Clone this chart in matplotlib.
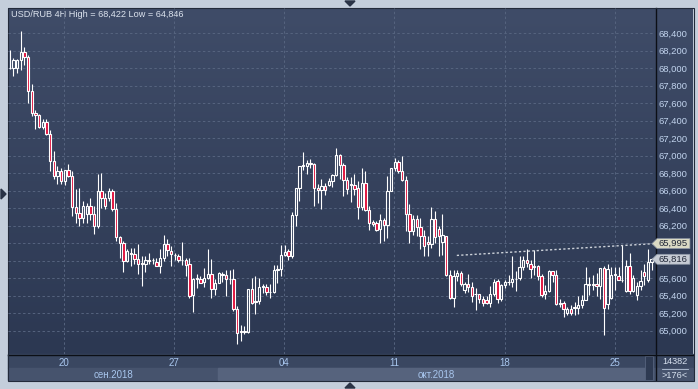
import numpy as np
import matplotlib
matplotlib.use("Agg")
import matplotlib.pyplot as plt
import matplotlib.transforms as mtransforms
from matplotlib.patches import Rectangle, Polygon
from matplotlib.colors import LinearSegmentedColormap
from matplotlib.ticker import FuncFormatter

plt.rcParams['font.family'] = ['Liberation Sans', 'DejaVu Sans']

title = "USD/RUB 4H High = 68,422 Low = 64,846"

# 4H candles
opens = [67995, 68000, 68005, 68095, 68185, 68125, 67735, 67490, 67460, 67325,
         67385, 67250, 66935, 66765, 66825, 66710, 66830, 66765, 66415, 66350,
         66290, 66330, 66425, 66330, 66200, 66595, 66520, 66520, 66595, 66386,
         66071, 66006, 65797, 65892, 65873, 65824, 65778, 65767, 65808, 65805,
         65789, 65740, 65835, 65995, 65908, 65860, 65859, 65805, 65805, 65764,
         65406, 65593, 65596, 65554, 65604, 65650, 65479, 65547, 65653, 65631,
         65593, 65585, 65251, 64996, 64996, 64988, 65479, 65330, 65338, 65501,
         65501, 65444, 65441, 65699, 65707, 65870, 65908, 65859, 66318, 66630,
         66885, 66885, 66915, 66904, 66630, 66611, 66657, 66660, 66710, 66782,
         67010, 66896, 66725, 66676, 66668, 66625, 66413, 66687, 66383, 66242,
         66231, 66160, 66269, 66204, 66592, 66858, 66926, 66828, 66725, 66337,
         66136, 66277, 66185, 66079, 66014, 65995, 66277, 66166, 66014, 66087,
         65635, 65368, 65623, 65661, 65463, 65535, 65501, 65414, 65414, 65357,
         65346, 65321, 65423, 65564, 65359, 65526, 65556, 65556, 65594, 65602,
         65727, 65803, 65758, 65735, 65735, 65625, 65416, 65450, 65678, 65640,
         65309, 65314, 65207, 65252, 65268, 65260, 65290, 65347, 65537, 65526,
         65537, 65511, 65720, 65300, 65374, 65640, 65625, 65575, 65450, 65739,
         65450, 65404, 65511, 65670, 65575, 65784]
highs = [68210, 68115, 68100, 68422, 68235, 68150, 67820, 67525, 67477, 67420,
         67420, 67298, 67050, 66880, 66860, 66840, 66900, 66823, 66615, 66625,
         66480, 66460, 66520, 66424, 66792, 66800, 66575, 66635, 66614, 66462,
         66082, 66025, 65930, 65950, 65940, 65995, 65854, 65854, 65892, 65835,
         65835, 65930, 66090, 66044, 65965, 65885, 65880, 66015, 65825, 65825,
         65604, 65650, 65623, 65718, 65935, 65824, 65593, 65672, 65672, 65699,
         65699, 65707, 65281, 65061, 65053, 65479, 65604, 65623, 65604, 65528,
         65528, 65528, 65756, 65756, 65984, 65984, 65938, 66356, 66630, 66885,
         67040, 66953, 66961, 66915, 66679, 66733, 66687, 66740, 66795, 67086,
         67021, 66915, 66752, 66752, 66793, 66706, 66858, 66820, 66429, 66269,
         66250, 66337, 66288, 66763, 66858, 66972, 66953, 66999, 66763, 66451,
         66326, 66326, 66288, 66155, 66079, 66413, 66364, 66193, 66337, 66087,
         65691, 65691, 65699, 65680, 65555, 65650, 65555, 65490, 65422, 65395,
         65395, 65511, 65587, 65594, 65537, 65575, 65632, 65853, 65678, 65853,
         65849, 65936, 65811, 65917, 65746, 65651, 65518, 65689, 65678, 65689,
         65366, 65336, 65271, 65290, 65328, 65397, 65404, 65727, 65613, 65632,
         65663, 65720, 65735, 65765, 65727, 65727, 65727, 65982, 65811, 65887,
         65640, 65556, 65689, 65765, 65936, 65834]
lows = [67990, 67905, 67945, 67980, 68040, 67600, 67450, 67300, 67320, 67305,
        67240, 66823, 66730, 66680, 66680, 66670, 66750, 66310, 66235, 66195,
        66235, 66235, 66270, 66101, 66177, 66400, 66385, 66480, 66367, 66025,
        65835, 65675, 65780, 65740, 65760, 65645, 65510, 65665, 65767, 65759,
        65740, 65664, 65797, 65854, 65737, 65805, 65790, 65745, 65630, 65376,
        65213, 65490, 65547, 65500, 65585, 65376, 65406, 65547, 65560, 65395,
        65528, 65224, 64846, 64882, 64958, 64977, 65300, 65186, 65300, 65433,
        65406, 65376, 65433, 65547, 65623, 65851, 65813, 65832, 66193, 66478,
        66831, 66793, 66858, 66429, 66459, 66394, 66554, 66650, 66640, 66763,
        66733, 66535, 66562, 66467, 66554, 66281, 66383, 66364, 66147, 66193,
        66136, 66000, 66022, 66060, 66592, 66828, 66801, 66706, 66136, 66003,
        66098, 66079, 65935, 65859, 65859, 65946, 66003, 65859, 65870, 65623,
        65357, 65270, 65566, 65509, 65433, 65441, 65327, 65235, 65319, 65281,
        65300, 65271, 65397, 65311, 65336, 65488, 65526, 65499, 65450, 65575,
        65689, 65727, 65602, 65640, 65575, 65385, 65359, 65442, 65556, 65290,
        65271, 65157, 65176, 65184, 65184, 65195, 65260, 65347, 65404, 65461,
        65397, 65366, 64950, 65250, 65366, 65461, 65575, 65556, 65442, 65423,
        65442, 65347, 65461, 65518, 65556, 65689]
closes = [68005, 68095, 68095, 68185, 68125, 67735, 67490, 67460, 67325, 67385,
          67250, 66935, 66765, 66825, 66710, 66830, 66765, 66415, 66350, 66290,
          66425, 66425, 66330, 66200, 66595, 66520, 66425, 66595, 66386, 66071,
          66006, 65797, 65911, 65875, 65824, 65767, 65767, 65808, 65797, 65805,
          65740, 65835, 65995, 65920, 65878, 65870, 65805, 65810, 65756, 65395,
          65593, 65596, 65547, 65604, 65650, 65479, 65547, 65661, 65631, 65593,
          65585, 65251, 64977, 64988, 64988, 65479, 65319, 65338, 65501, 65509,
          65444, 65441, 65699, 65707, 65870, 65897, 65859, 66326, 66630, 66885,
          66896, 66915, 66904, 66630, 66611, 66657, 66603, 66715, 66782, 67010,
          66896, 66725, 66619, 66668, 66619, 66413, 66687, 66383, 66231, 66220,
          66155, 66269, 66204, 66592, 66858, 66926, 66828, 66725, 66337, 66136,
          66277, 66185, 66079, 65973, 65995, 66277, 66071, 66079, 66090, 65635,
          65368, 65623, 65661, 65539, 65528, 65501, 65395, 65414, 65357, 65319,
          65319, 65423, 65556, 65366, 65518, 65556, 65560, 65594, 65590, 65727,
          65811, 65773, 65708, 65727, 65625, 65404, 65450, 65678, 65640, 65309,
          65321, 65245, 65252, 65207, 65260, 65290, 65347, 65537, 65526, 65537,
          65511, 65720, 65260, 65700, 65640, 65651, 65575, 65575, 65739, 65450,
          65602, 65511, 65564, 65625, 65784, 65816]

price_ticks = list(range(65000, 68401, 200))
week_pos = [14.8, 44.8, 74.9, 104.9, 135.0, 165.0]
week_labels = ['20', '27', '04', '11', '18', '25']
month_names = ['сен.2018', 'окт.2018']
month_edges = [-0.5, 56.8, 175.95]

trend_x = [121.9, 175.9]
trend_y = [65860, 65995]
bars_total = 14382
bars_shown = 176

W, H = 698, 389
fig = plt.figure(figsize=(W / 100, H / 100), dpi=100)
fig.patch.set_facecolor('#c4cedb')

# pixel canvas for the terminal frame
bg = fig.add_axes([0, 0, 1, 1])
bg.axis('off')
cmap = LinearSegmentedColormap.from_list('bgc', ['#3f4c68', '#2c3852'])
bg.imshow(np.linspace(0, 1, 256)[:, None], cmap=cmap, extent=[8, 693, 354, 8],
          aspect='auto', zorder=0)
bg.add_patch(Rectangle((8, 354), 685, 14, color='#3a4761', zorder=1))
bg.add_patch(Rectangle((8, 368), 685, 12, color='#46536d', zorder=1))
bg.add_patch(Rectangle((218, 368), 427, 12, color='#56637d', zorder=1))
bg.add_patch(Rectangle((645, 356), 8, 24, facecolor='#2e3a52', edgecolor='#56637d',
                       lw=0.6, zorder=2))
bg.plot([8, 693], [354.5, 354.5], color='#0c0f16', lw=1.0, zorder=3)
bg.plot([655.5, 655.5], [8, 380], color='#0c0f16', lw=1.0, zorder=3)
bg.add_patch(Rectangle((7.5, 7.5), 686, 373, facecolor='none', edgecolor='#222a3a',
                       lw=0.8, zorder=3))
bg.plot([662, 688], [368.5, 368.5], color='#b8c6da', lw=0.6, zorder=3)
bg.text(675, 362, str(bars_total), color='#d6e0ee', fontsize=6.6, ha='center',
        va='center', zorder=4)
bg.text(675, 375, '>' + str(bars_shown) + '<', color='#d6e0ee', fontsize=6.6,
        ha='center', va='center', zorder=4)
for tri in ([(345, 1), (355, 1), (350, 6)], [(345, 388), (355, 388), (350, 383)],
            [(1, 189), (1, 199), (6, 194)]):
    bg.add_patch(Polygon(tri, color='#2a3346', zorder=2))
bg.text(11, 14, title, color='#dce3ee', fontsize=6.6, ha='left', va='center', zorder=4)
bg.set_xlim(0, W)
bg.set_ylim(H, 0)

ax = fig.add_axes([8 / W, (H - 354) / H, 647 / W, 346 / H])
ax.set_facecolor('none')
for s in ax.spines.values():
    s.set_visible(False)

x = np.arange(len(opens))
o, hi, lo, c = (np.array(v, dtype=float) for v in (opens, highs, lows, closes))
top = np.maximum(o, c)
bot = np.minimum(o, c)
ax.vlines(x, top, hi, color='white', lw=0.8, zorder=3)
ax.vlines(x, lo, bot, color='white', lw=0.8, zorder=3)
body = np.maximum(top - bot, 6)
up = c >= o
ax.bar(x[up], body[up], bottom=bot[up], width=0.62, facecolor='none',
       edgecolor='white', linewidth=0.8, zorder=4)
ax.bar(x[~up], body[~up], bottom=bot[~up], width=0.62, facecolor='#e0103c',
       edgecolor='white', linewidth=0.8, zorder=4)

ax.plot(trend_x, trend_y, color='#cdd2da', lw=1.0, linestyle=(0, (1.6, 1.6)),
        zorder=5, clip_on=False)

tags = [trend_y[-1], closes[-1]]


def price_fmt(v, pos):
    # the scale label hidden behind a price tag is not drawn
    if any(abs(v - t) < 110 for t in tags):
        return ''
    return f"{v:,.0f}"


ax.set_xlim(-0.49, 175.95)
ax.set_ylim(64734, 68686)
ax.set_yticks(price_ticks)
ax.set_xticks(week_pos)
ax.set_xticklabels(week_labels)
ax.yaxis.set_major_formatter(FuncFormatter(price_fmt))
ax.yaxis.tick_right()
ax.grid(True, color='#56647f', linestyle=(0, (2.5, 2.5)), lw=0.7)
ax.set_axisbelow(True)
ax.tick_params(axis='y', length=0, pad=2.5, labelsize=6.8, labelcolor='#c2d4ee')
ax.tick_params(axis='x', length=0, pad=3, labelsize=7, labelcolor='#a8c6ee')

# month captions centred on their visible span
trans = mtransforms.blended_transform_factory(ax.transData, ax.transAxes)
for i, name in enumerate(month_names):
    mid = (month_edges[i] + month_edges[i + 1]) / 2
    ax.text(mid, -0.061, name, transform=trans, color='#a8c6ee', fontsize=7,
            ha='center', va='center', clip_on=False)

# price tags on the right scale
ytr = ax.get_yaxis_transform()
half = 57
for val, fc in zip(tags, ('#dadac4', '#c6cbd4')):
    pts = [(0.9954, val), (1.0031, val + half), (1.054, val + half),
           (1.054, val - half), (1.0031, val - half)]
    ax.add_patch(Polygon(pts, closed=True, facecolor=fc, edgecolor='#8a94a4', lw=0.5,
                         transform=ytr, clip_on=False, zorder=6))
    ax.text(1.006, val, f"{val:,.0f}", transform=ytr, color='#1f2636', fontsize=6.8,
            ha='left', va='center', clip_on=False, zorder=7)

fig.savefig('out.png', dpi=100, facecolor=fig.get_facecolor())
